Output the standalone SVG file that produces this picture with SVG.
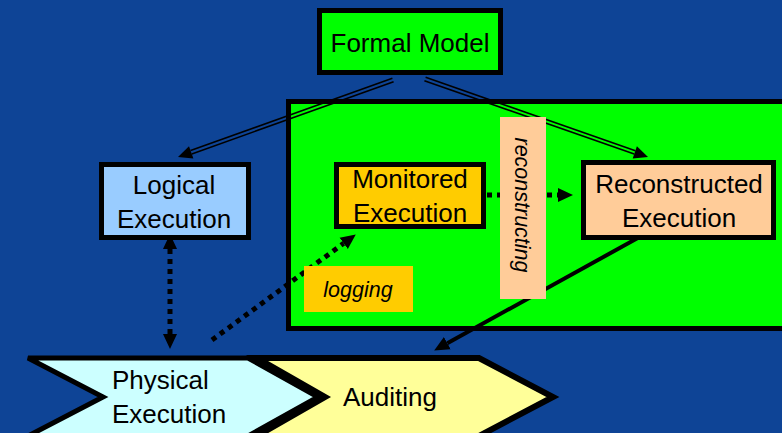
<svg xmlns="http://www.w3.org/2000/svg" width="782" height="433" viewBox="0 0 782 433">
  <defs>
    <marker id="head" markerUnits="userSpaceOnUse" markerWidth="15" markerHeight="15" refX="0" refY="7" orient="auto-start-reverse" viewBox="0 0 15 14">
      <path d="M0,0 L15,7 L0,14 z" fill="#000"/>
    </marker>
    <style>
      .box { stroke: #000; stroke-width: 5; }
      .t { font-family: "Liberation Sans", Arial, sans-serif; font-size: 26px; fill: #000; }
      .lbl { font-family: "Liberation Sans", Arial, sans-serif; font-size: 21.5px; font-style: italic; fill: #000; }
      .dot { fill: none; stroke: #000; stroke-width: 5; stroke-dasharray: 5 5; }
      .thin { stroke: #000; stroke-width: 1.6; fill: none; }
    </style>
  </defs>
  <rect x="0" y="0" width="782" height="433" fill="#0E4496"/>

  <g id="container">
    <rect x="288.5" y="101.5" width="500" height="227" fill="#00FF00" class="box"/>
  </g>

  <g id="connectors">
    <!-- Formal Model -> Logical Execution (double line) -->
    <line class="thin" x1="393.6" y1="81.7" x2="191.8" y2="154.0"/>
    <line class="thin" x1="392.4" y1="78.3" x2="190.6" y2="150.6"/>
    <polygon points="178,157 193.4,158.4 189.0,146.2" fill="#000"/>
    <!-- Formal Model -> Reconstructed Execution (double line) -->
    <line class="thin" x1="424.4" y1="80.7" x2="634.2" y2="154.1"/>
    <line class="thin" x1="425.6" y1="77.3" x2="635.4" y2="150.7"/>
    <polygon points="648,157 632.7,158.5 636.9,146.3" fill="#000"/>
    <!-- Logical <-> Physical -->
    <line class="dot" x1="170" y1="249" x2="170" y2="334" marker-start="url(#head)" marker-end="url(#head)"/>
    <!-- Physical -> Monitored -->
    <line class="dot" x1="212" y1="340" x2="343.7" y2="243.3" marker-end="url(#head)"/>
    <!-- Monitored -> Reconstructed -->
    <line class="dot" x1="487" y1="195" x2="558" y2="195" marker-end="url(#head)"/>
    <!-- Reconstructed -> Auditing -->
    <line x1="645" y1="234" x2="447.3" y2="343.2" stroke="#000" stroke-width="4" marker-end="url(#head)"/>
  </g>

  <g id="formal-model">
    <rect x="319.5" y="10.5" width="181" height="62" fill="#00FF00" class="box"/>
    <text class="t" x="410" y="52" text-anchor="middle">Formal Model</text>
  </g>

  <g id="logical-execution">
    <rect x="101.5" y="164.5" width="147" height="73" fill="#99CCFF" class="box"/>
    <text class="t" x="174" y="194" text-anchor="middle">Logical</text>
    <text class="t" x="174" y="228" text-anchor="middle">Execution</text>
  </g>

  <g id="monitored-execution">
    <rect x="336.5" y="164.5" width="147" height="62" fill="#FFCC00" class="box"/>
    <text class="t" x="410" y="188" text-anchor="middle">Monitored</text>
    <text class="t" x="410" y="222" text-anchor="middle">Execution</text>
  </g>

  <g id="reconstructed-execution">
    <rect x="583.5" y="162.5" width="190" height="75" fill="#FFCC99" class="box"/>
    <text class="t" x="679" y="193" text-anchor="middle">Reconstructed</text>
    <text class="t" x="679" y="227" text-anchor="middle">Execution</text>
  </g>

  <g id="reconstructing-label">
    <rect x="500" y="117" width="46" height="182" fill="#FFCC99"/>
    <text class="lbl" transform="translate(515,205) rotate(90)" text-anchor="middle">reconstructing</text>
  </g>

  <g id="logging-label">
    <rect x="304" y="266" width="109" height="46" fill="#FFCC00"/>
    <text class="lbl" x="358" y="297" text-anchor="middle">logging</text>
  </g>

  <g id="physical-execution">
    <polygon points="28,358 248,358 318,397 248,436 28,436 103,397" fill="#CCFFFF" stroke="#000" stroke-width="5"/>
    <text class="t" x="112" y="389">Physical</text>
    <text class="t" x="112" y="423">Execution</text>
  </g>

  <g id="auditing">
    <polygon points="257,358 479,358 553,397 479,436 257,436 325,397" fill="#FFFF99" stroke="#000" stroke-width="6"/>
    <text class="t" x="343" y="406">Auditing</text>
  </g>
</svg>
